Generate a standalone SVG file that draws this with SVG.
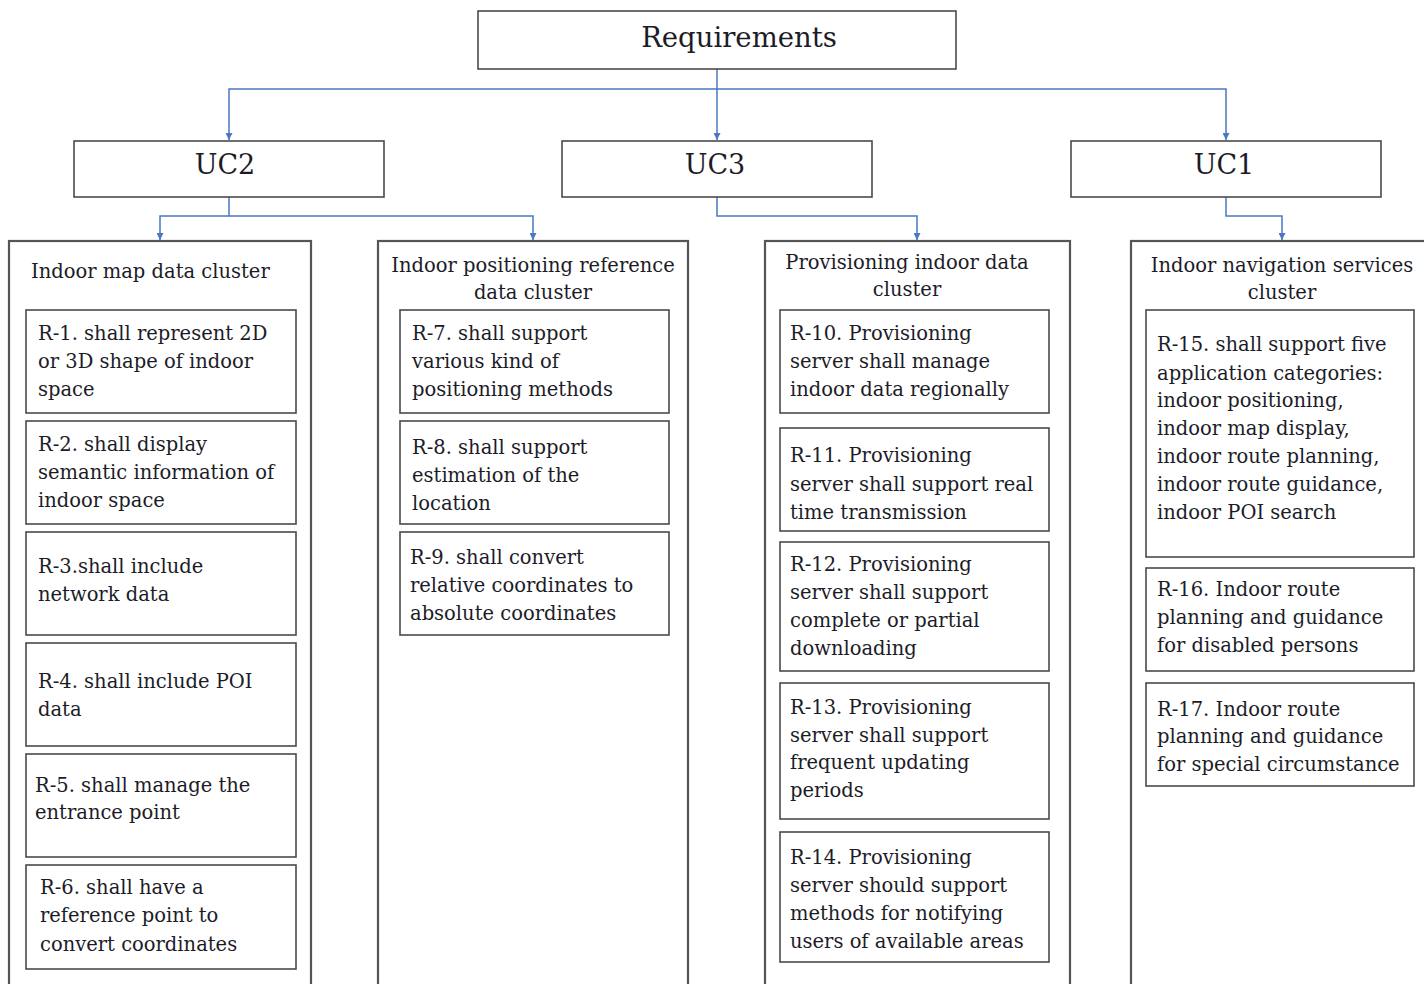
<svg xmlns="http://www.w3.org/2000/svg" width="1424" height="984" viewBox="0 0 1424 984">
<style>
text{font-family:"DejaVu Serif","Liberation Serif",serif;fill:#1c1c28}
.box{fill:#fff;stroke:#4a4a4a;stroke-width:1.6}
.cl{fill:#fff;stroke:#555;stroke-width:2.2}
.b{font-size:19.5px}
.t{font-size:19.5px}
.uc{font-size:27px;text-anchor:middle}
.c{text-anchor:middle}
.ln{fill:none;stroke:#4a78c2;stroke-width:1.5}
</style>
<defs>
<marker id="ah" viewBox="0 0 10 10" refX="10" refY="5" markerWidth="7" markerHeight="7" markerUnits="userSpaceOnUse" orient="auto">
<path d="M0,0 L10,5 L0,10 z" fill="#4a78c2"/>
</marker>
</defs>

<g id="connectors">
<path class="ln" d="M717,69 V140" stroke-width="2.2" marker-end="url(#ah)"/>
<path class="ln" d="M717,89 H229 V140" marker-end="url(#ah)"/>
<path class="ln" d="M717,89 H1226 V140" marker-end="url(#ah)"/>
<path class="ln" d="M229,197 V216 H160 V240" marker-end="url(#ah)"/>
<path class="ln" d="M229,216 H533 V240" marker-end="url(#ah)"/>
<path class="ln" d="M717,197 V216 H917 V240" marker-end="url(#ah)"/>
<path class="ln" d="M1226,197 V216 H1282 V240" marker-end="url(#ah)"/>
</g>

<g id="requirements">
<rect class="box" x="478" y="11" width="478" height="58" stroke-width="2"/>
<text x="739" y="47" style="font-size:27.5px" class="c">Requirements</text>
</g>
<g id="uc2"><rect class="box" x="74" y="141" width="310" height="56"/><text x="225" y="174" class="uc">UC2</text></g>
<g id="uc3"><rect class="box" x="562" y="141" width="310" height="56"/><text x="715" y="174" class="uc">UC3</text></g>
<g id="uc1"><rect class="box" x="1071" y="141" width="310" height="56"/><text x="1224" y="174" class="uc">UC1</text></g>

<g id="cluster-map">
<rect class="cl" x="9" y="241" width="302" height="760"/>
<text x="31" y="278" class="t">Indoor map data cluster</text>
</g>
<g id="cluster-positioning">
<rect class="cl" x="378" y="241" width="310" height="760"/>
<text x="533" y="272" class="t c">Indoor positioning reference</text>
<text x="533" y="299" class="t c">data cluster</text>
</g>
<g id="cluster-provisioning">
<rect class="cl" x="765" y="241" width="305" height="760"/>
<text x="907" y="269" class="t c">Provisioning indoor data</text>
<text x="907" y="296" class="t c">cluster</text>
</g>
<g id="cluster-navigation">
<rect class="cl" x="1131" y="241" width="310" height="760"/>
<text x="1282" y="272" class="t c">Indoor navigation services</text>
<text x="1282" y="299" class="t c">cluster</text>
</g>

<g id="r1"><rect class="box" x="26" y="310" width="270" height="103"/>
<text class="b" x="38" y="340">R-1. shall represent 2D</text><text class="b" x="38" y="368">or 3D shape of indoor</text><text class="b" x="38" y="396">space</text></g>
<g id="r2"><rect class="box" x="26" y="421" width="270" height="103"/>
<text class="b" x="38" y="451">R-2. shall display</text><text class="b" x="38" y="479">semantic information of</text><text class="b" x="38" y="507">indoor space</text></g>
<g id="r3"><rect class="box" x="26" y="532" width="270" height="103"/>
<text class="b" x="38" y="573">R-3.shall include</text><text class="b" x="38" y="601">network data</text></g>
<g id="r4"><rect class="box" x="26" y="643" width="270" height="103"/>
<text class="b" x="38" y="688">R-4. shall include POI</text><text class="b" x="38" y="716">data</text></g>
<g id="r5"><rect class="box" x="26" y="754" width="270" height="103"/>
<text class="b" x="35" y="792">R-5. shall manage the</text><text class="b" x="35" y="819">entrance point</text></g>
<g id="r6"><rect class="box" x="26" y="865" width="270" height="104"/>
<text class="b" x="40" y="894">R-6. shall have a</text><text class="b" x="40" y="922">reference point to</text><text class="b" x="40" y="951">convert coordinates</text></g>

<g id="r7"><rect class="box" x="400" y="310" width="269" height="103"/>
<text class="b" x="412" y="340">R-7. shall support</text><text class="b" x="412" y="368">various kind of</text><text class="b" x="412" y="396">positioning methods</text></g>
<g id="r8"><rect class="box" x="400" y="421" width="269" height="103"/>
<text class="b" x="412" y="454">R-8. shall support</text><text class="b" x="412" y="482">estimation of the</text><text class="b" x="412" y="510">location</text></g>
<g id="r9"><rect class="box" x="400" y="532" width="269" height="103"/>
<text class="b" x="410" y="564">R-9. shall convert</text><text class="b" x="410" y="592">relative coordinates to</text><text class="b" x="410" y="620">absolute coordinates</text></g>

<g id="r10"><rect class="box" x="780" y="310" width="269" height="103"/>
<text class="b" x="790" y="340">R-10. Provisioning</text><text class="b" x="790" y="368">server shall manage</text><text class="b" x="790" y="396">indoor data regionally</text></g>
<g id="r11"><rect class="box" x="780" y="428" width="269" height="103"/>
<text class="b" x="790" y="462">R-11. Provisioning</text><text class="b" x="790" y="491">server shall support real</text><text class="b" x="790" y="519">time transmission</text></g>
<g id="r12"><rect class="box" x="780" y="542" width="269" height="129"/>
<text class="b" x="790" y="571">R-12. Provisioning</text><text class="b" x="790" y="599">server shall support</text><text class="b" x="790" y="627">complete or partial</text><text class="b" x="790" y="655">downloading</text></g>
<g id="r13"><rect class="box" x="780" y="683" width="269" height="136"/>
<text class="b" x="790" y="714">R-13. Provisioning</text><text class="b" x="790" y="742">server shall support</text><text class="b" x="790" y="769">frequent updating</text><text class="b" x="790" y="797">periods</text></g>
<g id="r14"><rect class="box" x="780" y="832" width="269" height="130"/>
<text class="b" x="790" y="864">R-14. Provisioning</text><text class="b" x="790" y="892">server should support</text><text class="b" x="790" y="920">methods for notifying</text><text class="b" x="790" y="948">users of available areas</text></g>

<g id="r15"><rect class="box" x="1146" y="310" width="268" height="247"/>
<text class="b" x="1157" y="351">R-15. shall support five</text><text class="b" x="1157" y="380">application categories:</text><text class="b" x="1157" y="407">indoor positioning,</text><text class="b" x="1157" y="435">indoor map display,</text><text class="b" x="1157" y="463">indoor route planning,</text><text class="b" x="1157" y="491">indoor route guidance,</text><text class="b" x="1157" y="519">indoor POI search</text></g>
<g id="r16"><rect class="box" x="1146" y="568" width="268" height="103"/>
<text class="b" x="1157" y="596">R-16. Indoor route</text><text class="b" x="1157" y="624">planning and guidance</text><text class="b" x="1157" y="652">for disabled persons</text></g>
<g id="r17"><rect class="box" x="1146" y="683" width="268" height="103"/>
<text class="b" x="1157" y="716">R-17. Indoor route</text><text class="b" x="1157" y="743">planning and guidance</text><text class="b" x="1157" y="771">for special circumstance</text></g>
</svg>
